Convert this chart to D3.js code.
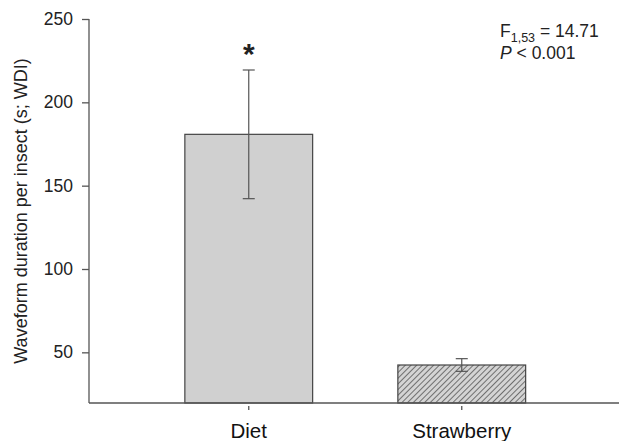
<!DOCTYPE html>
<html>
<head>
<meta charset="utf-8">
<script src="https://cdn.jsdelivr.net/npm/d3@7"></script>
<style>
  body { margin: 0; background: #fff; }
  svg { display: block; font-family: Arial, "Liberation Sans", sans-serif; }
</style>
</head>
<body>
<svg id="chart" width="619" height="441"></svg>
<script>
// data
const categories = ['Diet', 'Strawberry'];
const means = [180.8, 42.4];
const errors = [38.6, 3.8];
const yTicks = [50, 100, 150, 200, 250];

const width = 619, height = 441;
const margin = { top: 19, right: 0, bottom: 38, left: 89 };
const innerWidth = width - margin.left - margin.right;
const innerHeight = height - margin.top - margin.bottom;

const svg = d3.select('#chart');

// hatch for the strawberry bar
const defs = svg.append('defs');
const pat = defs.append('pattern')
  .attr('id', 'hatch')
  .attr('patternUnits', 'userSpaceOnUse')
  .attr('width', 4).attr('height', 4)
  .attr('patternTransform', 'rotate(45)');
pat.append('rect').attr('width', 4).attr('height', 4).attr('fill', '#d4d4d4');
pat.append('line')
  .attr('x1', 0).attr('y1', 0).attr('x2', 0).attr('y2', 4)
  .attr('stroke', '#555').attr('stroke-width', 1.6);

const g = svg.append('g')
  .attr('transform', `translate(${margin.left},${margin.top})`);

const x = d3.scaleBand()
  .domain(categories)
  .range([0, 532.5])
  .paddingInner(0.4)
  .paddingOuter(0.45);

const y = d3.scaleLinear()
  .domain([19.6, 250])
  .range([innerHeight, 0]);

// bars
g.selectAll('rect.bar')
  .data(categories)
  .enter()
  .append('rect')
  .attr('class', 'bar')
  .attr('x', d => x(d))
  .attr('width', x.bandwidth())
  .attr('y', (d, i) => y(means[i]))
  .attr('height', (d, i) => y.range()[0] - y(means[i]))
  .attr('fill', (d, i) => i === 0 ? '#d0d0d0' : 'url(#hatch)')
  .attr('stroke', '#444')
  .attr('stroke-width', 1.2);

// error bars
const eb = g.selectAll('g.err')
  .data(categories)
  .enter()
  .append('g')
  .attr('class', 'err')
  .attr('stroke', '#555')
  .attr('stroke-width', 1.2);

eb.append('line')
  .attr('x1', d => x(d) + x.bandwidth() / 2)
  .attr('x2', d => x(d) + x.bandwidth() / 2)
  .attr('y1', (d, i) => y(means[i] + errors[i]))
  .attr('y2', (d, i) => y(means[i] - errors[i]));

[1, -1].forEach(s => {
  eb.append('line')
    .attr('x1', d => x(d) + x.bandwidth() / 2 - 6)
    .attr('x2', d => x(d) + x.bandwidth() / 2 + 6)
    .attr('y1', (d, i) => y(means[i] + s * errors[i]))
    .attr('y2', (d, i) => y(means[i] + s * errors[i]));
});

// significance star
g.append('text')
  .attr('x', x('Diet') + x.bandwidth() / 2)
  .attr('y', y(means[0] + errors[0]) - 6)
  .attr('text-anchor', 'middle')
  .attr('font-size', '30px')
  .attr('font-weight', 'bold')
  .attr('fill', '#222')
  .text('*');

// axes
const yAxis = g.append('g')
  .call(d3.axisLeft(y).tickValues(yTicks).tickSize(7).tickPadding(9));
yAxis.select('.domain').attr('d', `M0,0V${innerHeight}`);

const xAxis = g.append('g')
  .attr('transform', `translate(0,${innerHeight})`)
  .call(d3.axisBottom(x).tickSize(7).tickPadding(13));
xAxis.select('.domain').attr('d', `M0,0H${innerWidth}`);
xAxis.selectAll('.tick line').attr('y1', 3);

g.selectAll('.domain, .tick line')
  .attr('stroke', '#555')
  .attr('stroke-width', 1.3);
yAxis.selectAll('text')
  .attr('font-size', '17.5px')
  .attr('fill', '#222');
xAxis.selectAll('text')
  .attr('font-size', '20.5px')
  .attr('fill', '#111');

// y label
svg.append('text')
  .attr('transform', 'rotate(-90)')
  .attr('x', -(margin.top + innerHeight / 2))
  .attr('y', 27)
  .attr('text-anchor', 'middle')
  .attr('font-size', '18px')
  .attr('fill', '#222')
  .text('Waveform duration per insect (s; WDI)');

// stats annotation
const stat = svg.append('text')
  .attr('x', 500)
  .attr('y', 36.5)
  .attr('font-size', '17.5px')
  .attr('fill', '#222');
stat.append('tspan').text('F');
stat.append('tspan').attr('font-size', '12.5px').attr('dy', 5).text('1,53');
stat.append('tspan').attr('dy', -5).text(' = 14.71');

const pLine = svg.append('text')
  .attr('x', 500)
  .attr('y', 58.5)
  .attr('font-size', '17.5px')
  .attr('fill', '#222');
pLine.append('tspan').attr('font-style', 'italic').text('P');
pLine.append('tspan').text(' < 0.001');
</script>
</body>
</html>
